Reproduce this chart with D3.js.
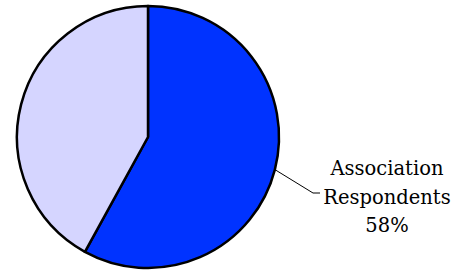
<!DOCTYPE html>
<html>
<head>
<meta charset="utf-8">
<script src="https://cdn.jsdelivr.net/npm/d3@7"></script>
<style>
  body { margin: 0; background: #fff; }
  svg { display: block; }
  .lbl { font-family: 'DejaVu Serif', serif; }
</style>
</head>
<body>
<div id="chart"></div>
<script>
const categories = ['Association Respondents', 'Other'];
const values = [58, 42];
const colors = ['#0033ff', '#d5d5ff'];
const labelLines = ['Association', 'Respondents', '58%'];

const width = 464, height = 272;
const cx = 148, cy = 137, radius = 131;

const svg = d3.select('#chart')
    .append('svg')
    .attr('width', width)
    .attr('height', height);

const g = svg.append('g')
    .attr('transform', `translate(${cx},${cy})`);

const pie = d3.pie()
    .sort(null)
    .value(d => d);

const arcs = pie(values);

const arc = d3.arc()
    .innerRadius(0)
    .outerRadius(radius);

g.selectAll('path')
    .data(arcs)
    .enter().append('path')
    .attr('d', arc)
    .attr('fill', (d, i) => colors[i])
    .attr('stroke', '#000')
    .attr('stroke-width', 2.5)
    .attr('stroke-linejoin', 'round');

// leader line for the blue slice
const a = arcs[0];
const mid = (a.startAngle + a.endAngle) / 2;
const p0 = [Math.sin(mid) * radius, -Math.cos(mid) * radius];
const p1 = [165, 56];
const p2 = [172, 56];

g.append('polyline')
    .attr('points', [p0, p1, p2].map(p => p.join(',')).join(' '))
    .attr('fill', 'none')
    .attr('stroke', '#000')
    .attr('stroke-width', 1);

const label = g.append('text')
    .attr('class', 'lbl')
    .attr('x', 239)
    .attr('y', 38)
    .attr('text-anchor', 'middle')
    .attr('font-size', 19.5)
    .attr('fill', '#000');

label.selectAll('tspan')
    .data(labelLines)
    .enter().append('tspan')
    .attr('x', 239)
    .attr('dy', (d, i) => i === 0 ? 0 : 28.5)
    .text(d => d);
</script>
</body>
</html>
